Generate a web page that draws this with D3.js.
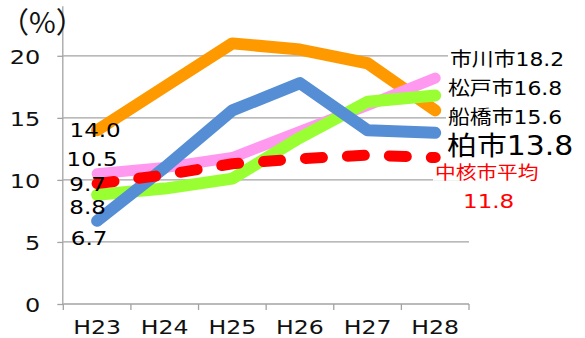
<!DOCTYPE html>
<html><head><meta charset="utf-8">
<script src="https://cdn.jsdelivr.net/npm/d3@7"></script>
<style>
html,body{margin:0;padding:0;background:#fff;}
svg{display:block;}
text{font-family:"DejaVu Sans","Noto Sans CJK JP",sans-serif;}
</style></head>
<body>
<svg id="c" width="585" height="338"></svg>
<script>
const categories = ["H23","H24","H25","H26","H27","H28"];
const ichikawa  = [10.5, 11.0, 11.8, 13.9, 16.0, 18.2];
const matsudo   = [8.8, 9.3, 10.1, 13.4, 16.3, 16.8];
const funabashi = [14.0, 17.5, 21.0, 20.5, 19.4, 15.6];
const kashiwa   = [6.7, 11.0, 15.6, 17.8, 14.0, 13.8];
const average   = [9.7, 10.4, 11.3, 11.7, 12.0, 11.8];
const seriesNames = ["市川市","松戸市","船橋市","柏市","中核市平均"];
const yTicks = [0, 5, 10, 15, 20];
const yUnit = "（%）";

const svg = d3.select("#c");
const X0 = 63.3, X1 = 469, Y0 = 304, PXU = 12.41;
const xb = d3.scaleBand().domain(categories).range([X0, X1]).padding(0);
const xc = c => xb(c) + xb.bandwidth()/2;
const y = d3.scaleLinear().domain([0, 24]).range([Y0, Y0 - 24*PXU]);
const GRID = "#a3a3a3";
const SX = 1.15;

function stretch(sel, k){
  sel.each(function(){
    const w = this.getComputedTextLength();
    this.setAttribute("textLength", w*(k||SX));
    this.setAttribute("lengthAdjust","spacingAndGlyphs");
  });
}

// gridlines
svg.append("g").selectAll("line").data(yTicks.filter(t=>t>0)).join("line")
  .attr("x1", X0).attr("x2", X1).attr("y1", d=>y(d)).attr("y2", d=>y(d))
  .attr("stroke", GRID).attr("stroke-width", 1.3);

// y axis
const ya = svg.append("g").attr("transform", `translate(${X0},0)`)
  .call(d3.axisLeft(y).tickValues(yTicks).tickSize(6).tickPadding(17).tickFormat(d3.format("d")));
ya.select(".domain").attr("stroke", GRID).attr("stroke-width",1.3).attr("d", `M-0.5,${y(24)}V${Y0}`);
ya.selectAll(".tick line").attr("stroke", GRID).attr("stroke-width",1.3);
ya.selectAll(".tick text").attr("font-size", 20).attr("fill","#111").attr("dy","0.36em")
  .style("font-family",'"DejaVu Sans",sans-serif');
stretch(ya.selectAll(".tick text"), 1.2);

// x axis
svg.append("line").attr("x1", X0).attr("x2", X1).attr("y1", Y0).attr("y2", Y0)
  .attr("stroke", GRID).attr("stroke-width", 1.3);
svg.append("g").selectAll("line").data(categories.map(c=>xb(c)).concat([X1])).join("line")
  .attr("x1", d=>d).attr("x2", d=>d).attr("y1", Y0).attr("y2", Y0+6)
  .attr("stroke", GRID).attr("stroke-width", 1.3);
const xa = svg.append("g").attr("transform", `translate(0,${Y0})`)
  .call(d3.axisBottom(xb).tickSize(0).tickPadding(0));
xa.select(".domain").remove();
xa.selectAll(".tick text").attr("font-size", 20).attr("fill","#111").attr("dy", 0).attr("y", 30)
  .style("font-family",'"DejaVu Sans",sans-serif');
stretch(xa.selectAll(".tick text"), 1.18);

// unit
svg.append("text").attr("x", 0).attr("y", 33).attr("font-size", 29).attr("fill","#111").text(yUnit)
  .style("font-family",'"Noto Sans CJK JP",sans-serif');

// lines
const line = d3.line().x((d,i)=>xc(categories[i])).y(d=>y(d));
const series = [
  {name:seriesNames[2], vals:funabashi, color:"#FF9900", w:12},
  {name:seriesNames[0], vals:ichikawa,  color:"#FF99F0", w:11},
  {name:seriesNames[1], vals:matsudo,   color:"#99FF33", w:12},
  {name:seriesNames[3], vals:kashiwa,   color:"#558ED5", w:12},
  {name:seriesNames[4], vals:average,   color:"#FF0000", w:11, dash:"17,25"}
];
svg.append("g").selectAll("path").data(series).join("path")
  .attr("d", s=>line(s.vals)).attr("fill","none")
  .attr("stroke", s=>s.color).attr("stroke-width", s=>s.w)
  .attr("stroke-linecap","round").attr("stroke-linejoin","round")
  .attr("stroke-dasharray", s=>s.dash||null);

// left labels (first values)
const leftLab = [
  {vals:funabashi, dx:-2,  dy:-1},
  {vals:ichikawa,  dx:-5,  dy:-15},
  {vals:average,   dx:-9.5,dy:0.5},
  {vals:matsudo,   dx:-9.5,dy:12},
  {vals:kashiwa,   dx:-8,  dy:17}
];
const lt = svg.append("g").selectAll("text").data(leftLab).join("text")
  .attr("x", d=>xc(categories[0])+d.dx)
  .attr("y", d=>y(d.vals[0])+d.dy+7.3)
  .attr("text-anchor","middle").attr("font-size",20).attr("fill","#000")
  .text(d=>d.vals[0].toFixed(1));
stretch(lt);

// right labels (last values)
const last = categories.length-1;
const rightLab = [
  {text:seriesNames[0]+ichikawa[last].toFixed(1), vals:ichikawa, x:450, dy:-19, fs:19, color:"#000"},
  {text:seriesNames[1]+matsudo[last].toFixed(1), vals:matsudo, x:448, dy:-7.5, fs:19, color:"#000"},
  {text:seriesNames[2]+funabashi[last].toFixed(1), vals:funabashi, x:448, dy:6.5, fs:19, color:"#000"},
  {text:seriesNames[3]+kashiwa[last].toFixed(1), vals:kashiwa, x:447, dy:12.5, fs:26, color:"#000"},
  {text:seriesNames[4], vals:average, x:435, dy:14.5, fs:18, color:"#FF0000"},
  {text:average[last].toFixed(1), vals:average, x:463, dy:43.5, fs:20, color:"#FF0000"}
];
const rg = svg.append("g");
rightLab.forEach(d=>{
  const t = rg.append("text").attr("x", d.x).attr("y", y(d.vals[last])+d.dy+0.37*d.fs)
    .attr("font-size", d.fs).attr("fill", d.color).text(d.text);
  stretch(t);
  const bb = t.node().getBBox();
  rg.insert("rect", "text").attr("x", bb.x-2).attr("y", bb.y+2).attr("width", bb.width+4).attr("height", bb.height-4)
    .attr("fill","#fff");
});
</script>
</body></html>
